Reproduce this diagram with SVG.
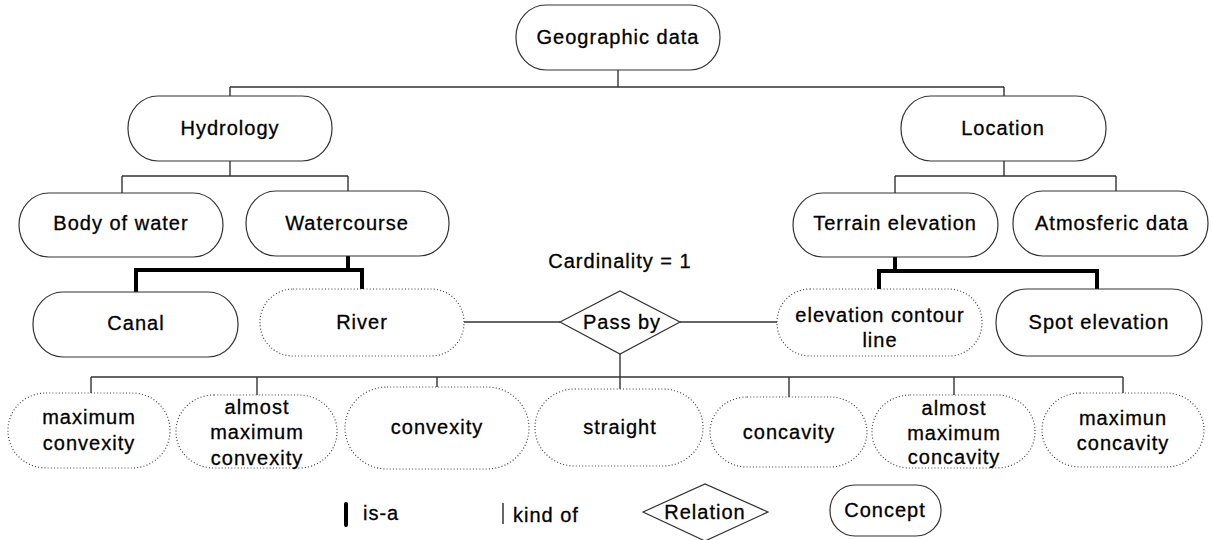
<svg xmlns="http://www.w3.org/2000/svg" width="1212" height="540" viewBox="0 0 1212 540">
<style>
text{font-family:"Liberation Sans",Arial,sans-serif;font-size:20px;letter-spacing:1px;fill:#000;stroke:#000;stroke-width:0.3;text-anchor:middle}
.n{fill:#fff;stroke:#333;stroke-width:1.2}
.d{fill:#fff;stroke:#444;stroke-width:1.2;stroke-dasharray:1 2.2}
.k{fill:none;stroke:#333;stroke-width:1.4}
.i{fill:none;stroke:#000;stroke-width:4;stroke-linecap:square}
</style>
<rect width="1212" height="540" fill="#fff"/>
<g id="connectors">
<path class="k" d="M618 70V87M230 87H1004M230 87V96M1004 87V96"/>
<path class="k" d="M230 161V176M122 176H348M122 176V193M348 176V191"/>
<path class="k" d="M1004 161V176M895 176H1116M895 176V193M1116 176V191"/>
<path class="k" d="M464 322H560M680 322H777"/>
<path class="k" d="M620 354V389M91 377H1123M91 377V393M257 377V395M437 377V387M789 377V397M954 377V395M1123 377V393"/>
<path class="i" d="M348 257V270M136 270H362M136 270V290M362 270V287"/>
<path class="i" d="M895 257V271M879 271H1097M879 271V287M1097 271V287"/>
</g>
<g id="geo"><rect class="n" x="516" y="5" width="204" height="65" rx="30" ry="32"/><text x="618" y="44">Geographic data</text></g>
<g id="hydrology"><rect class="n" x="128" y="96" width="204" height="65" rx="30" ry="32"/><text x="230" y="135">Hydrology</text></g>
<g id="location"><rect class="n" x="901" y="96" width="205" height="65" rx="30" ry="32"/><text x="1003" y="135">Location</text></g>
<g id="body"><rect class="n" x="19" y="193" width="204" height="64" rx="30" ry="32"/><text x="121" y="230">Body of water</text></g>
<g id="watercourse"><rect class="n" x="246" y="191" width="203" height="65" rx="30" ry="32"/><text x="347" y="230">Watercourse</text></g>
<g id="terrain"><rect class="n" x="793" y="193" width="205" height="64" rx="30" ry="32"/><text x="895" y="230">Terrain elevation</text></g>
<g id="atmos"><rect class="n" x="1013" y="191" width="195" height="65" rx="30" ry="32"/><text x="1112" y="230">Atmosferic data</text></g>
<g id="cardinality"><text x="620" y="268">Cardinality = 1</text></g>
<g id="canal"><rect class="n" x="33" y="292" width="205" height="65" rx="30" ry="32"/><text x="136" y="330">Canal</text></g>
<g id="river"><rect class="d" x="260" y="289" width="204" height="67" rx="33" ry="33"/><text x="362" y="329">River</text></g>
<g id="passby"><polygon class="n" points="560,322 620,291 680,322 620,354"/><text x="622" y="329">Pass by</text></g>
<g id="contour"><rect class="d" x="777" y="289" width="205" height="67" rx="33" ry="33"/><text x="880" y="322">elevation contour</text><text x="880" y="347">line</text></g>
<g id="spot"><rect class="n" x="996" y="289" width="206" height="67" rx="30" ry="33"/><text x="1099" y="329">Spot elevation</text></g>
<g id="maxconvex"><rect class="d" x="8" y="393" width="162" height="75" rx="38" ry="37"/><text x="89" y="424">maximum</text><text x="89" y="450">convexity</text></g>
<g id="almostconvex"><rect class="d" x="176" y="395" width="161" height="73" rx="38" ry="36"/><text x="257" y="414">almost</text><text x="257" y="439">maximum</text><text x="257" y="465">convexity</text></g>
<g id="convexity"><rect class="d" x="345" y="387" width="184" height="82" rx="42" ry="41"/><text x="437" y="434">convexity</text></g>
<g id="straight"><rect class="d" x="535" y="389" width="168" height="77" rx="40" ry="38"/><text x="620" y="434">straight</text></g>
<g id="concavity"><rect class="d" x="710" y="397" width="157" height="70" rx="37" ry="35"/><text x="789" y="439">concavity</text></g>
<g id="almostconcave"><rect class="d" x="872" y="395" width="163" height="73" rx="38" ry="36"/><text x="954" y="415">almost</text><text x="954" y="440">maximum</text><text x="954" y="464">concavity</text></g>
<g id="maxconcave"><rect class="d" x="1042" y="393" width="162" height="74" rx="38" ry="37"/><text x="1123" y="425">maximun</text><text x="1123" y="450">concavity</text></g>
<g id="legend">
<line x1="346" y1="504" x2="346" y2="525" stroke="#000" stroke-width="4" stroke-linecap="round"/>
<text x="363" y="520" style="text-anchor:start">is-a</text>
<line x1="503" y1="503" x2="503" y2="524" stroke="#000" stroke-width="1.2"/>
<text x="513" y="522" style="text-anchor:start">kind of</text>
<polygon class="n" points="643,512 705,484 768,512 705,541"/>
<text x="705" y="519">Relation</text>
<rect class="n" x="830" y="485" width="111" height="51" rx="25" ry="25"/>
<text x="885" y="517">Concept</text>
</g>
</svg>
